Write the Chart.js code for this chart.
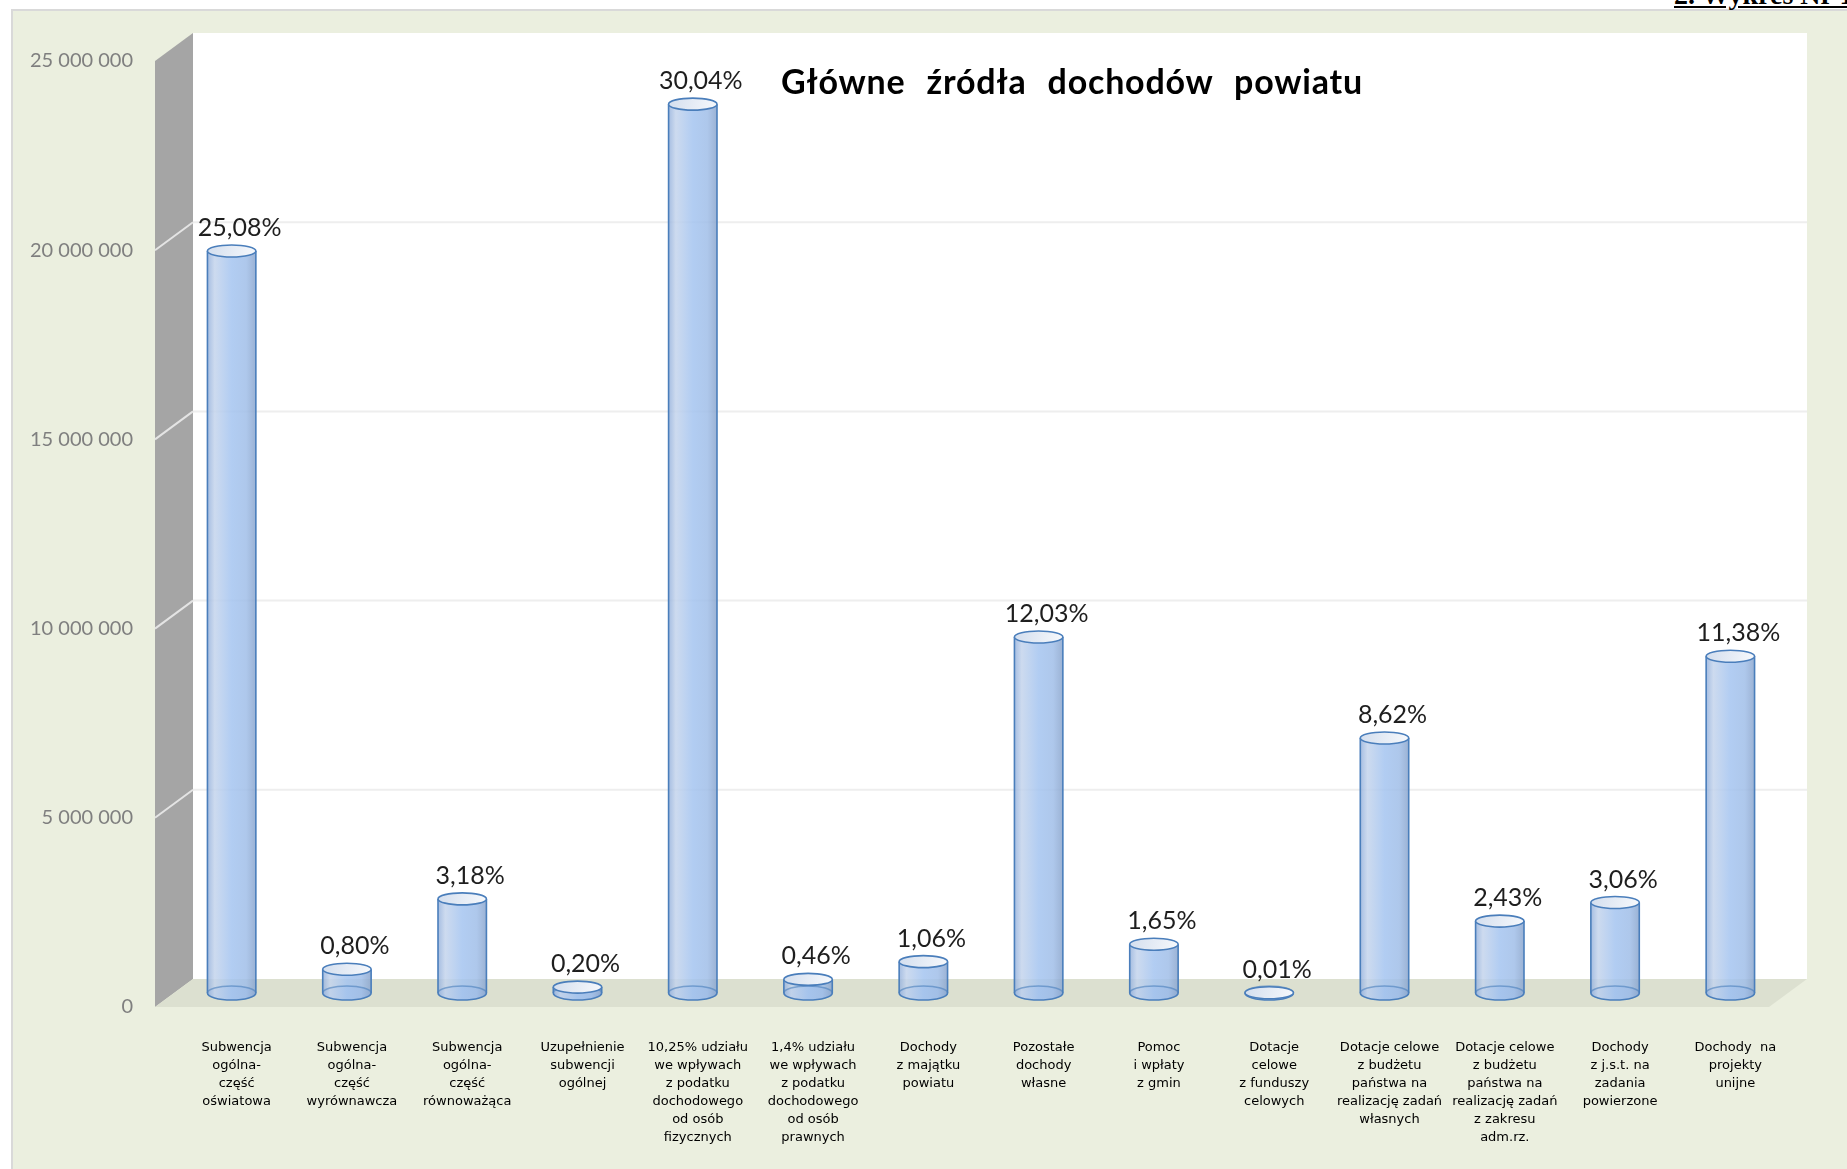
<!DOCTYPE html>
<html lang="pl">
<head>
<meta charset="utf-8">
<title>Główne źródła dochodów powiatu</title>
<script src="https://cdn.jsdelivr.net/npm/chart.js@4.4.1/dist/chart.umd.min.js"></script>
<style>
html, body { margin:0; padding:0; background:#fff; width:1847px; height:1169px; overflow:hidden; }
#panel { position:absolute; left:11px; top:9px; width:1840px; height:1165px; background:#ebefdf; border-left:2px solid #d9d9d9; border-top:2px solid #d9d9d9; }
#chart { position:absolute; left:0; top:0; }
#title { position:absolute; left:1072px; top:64px; transform:translateX(-50%); white-space:nowrap;
  font:bold 34px Lato, sans-serif; line-height:34px; letter-spacing:0.8px; word-spacing:12px; color:#000; }
#hdr { position:absolute; left:1674px; top:-19px; white-space:nowrap; font:bold 28px "Liberation Serif", serif;
  line-height:28px; text-decoration:underline; color:#000; }
</style>
</head>
<body>
<div id="panel"></div>
<div id="hdr">2. Wykres Nr 1</div>
<canvas id="chart" width="1847" height="1169"></canvas>
<div id="title">Główne źródła dochodów powiatu</div>
<script>
const categories = [
  ["Subwencja", "ogólna-", "część", "oświatowa"],
  ["Subwencja", "ogólna-", "część", "wyrównawcza"],
  ["Subwencja", "ogólna-", "część", "równoważąca"],
  ["Uzupełnienie", "subwencji", "ogólnej"],
  ["10,25% udziału", "we wpływach", "z podatku", "dochodowego", "od osób", "fizycznych"],
  ["1,4% udziału", "we wpływach", "z podatku", "dochodowego", "od osób", "prawnych"],
  ["Dochody", "z majątku", "powiatu"],
  ["Pozostałe", "dochody", "własne"],
  ["Pomoc", "i wpłaty", "z gmin"],
  ["Dotacje", "celowe", "z funduszy", "celowych"],
  ["Dotacje celowe", "z budżetu", "państwa na", "realizację zadań", "własnych"],
  ["Dotacje celowe", "z budżetu", "państwa na", "realizację zadań", "z zakresu", "adm.rz."],
  ["Dochody", "z j.s.t. na", "zadania", "powierzone"],
  ["Dochody  na", "projekty", "unijne"]
];

// kwoty w zł
const values = [19610000, 626000, 2487000, 156000, 23490000, 360000, 829000,
                9410000, 1290000, 8000, 6740000, 1900000, 2390000, 8900000];

const shares = ["25,08%", "0,80%", "3,18%", "0,20%", "30,04%", "0,46%", "1,06%",
                "12,03%", "1,65%", "0,01%", "8,62%", "2,43%", "3,06%", "11,38%"];

const yMax = 25000000;
const yStep = 5000000;

// perspective offset between the middle plane and the front/back planes
const DX = 19, DY = 14;

function fmt(v) {
  return String(v).replace(/\B(?=(\d{3})+(?!\d))/g, " ");
}

function poly(ctx, pts, color) {
  ctx.beginPath();
  ctx.moveTo(pts[0][0], pts[0][1]);
  for (let i = 1; i < pts.length; i++) ctx.lineTo(pts[i][0], pts[i][1]);
  ctx.closePath();
  ctx.fillStyle = color;
  ctx.fill();
}

const scene3d = {
  id: "scene3d",
  beforeDraw(chart) {
    const ctx = chart.ctx;
    const a = chart.chartArea;
    const y = chart.scales.y;
    const top = y.getPixelForValue(yMax);
    const base = y.getPixelForValue(0);
    ctx.save();
    // back wall
    ctx.fillStyle = "#ffffff";
    ctx.fillRect(a.left + DX, top - DY, a.right - a.left, base - top);
    // left wall
    poly(ctx, [[a.left - DX, top + DY], [a.left + DX, top - DY], [a.left + DX, base - DY], [a.left - DX, base + DY]], "#a5a5a5");
    // floor
    poly(ctx, [[a.left - DX, base + DY], [a.left + DX, base - DY], [a.right + DX, base - DY], [a.right - DX, base + DY]], "#dce0d0");
    // grid lines
    ctx.lineWidth = 2;
    y.ticks.forEach(t => {
      if (t.value <= 0 || t.value >= yMax) return;
      const p = y.getPixelForValue(t.value);
      ctx.strokeStyle = "#eeeeee";
      ctx.beginPath();
      ctx.moveTo(a.left + DX, p - DY);
      ctx.lineTo(a.right + DX, p - DY);
      ctx.stroke();
      ctx.strokeStyle = "#e4e4e4";
      ctx.beginPath();
      ctx.moveTo(a.left - DX, p + DY);
      ctx.lineTo(a.left + DX, p - DY);
      ctx.stroke();
    });
    ctx.restore();
  },
  afterDatasetsDraw(chart) {
    const ctx = chart.ctx;
    const meta = chart.getDatasetMeta(0);
    meta.data.forEach((bar, i) => {
      const p = bar.getProps(["x", "y", "base", "width"], true);
      drawCylinder(ctx, p.x, p.y, p.base, p.width / 2);
      ctx.save();
      ctx.font = "25px Lato, sans-serif";
      ctx.fillStyle = "#1e1e1e";
      ctx.textAlign = "center";
      ctx.textBaseline = "alphabetic";
      ctx.fillText(shares[i], p.x + 8, p.y - 15);
      ctx.restore();
    });
  }
};

function drawCylinder(ctx, x, yt, base, rx) {
  const ryTop = 6, ryBot = 7;
  const edge = "#4a7ebb";
  ctx.save();
  // bottom ellipse (seen through the body)
  ctx.beginPath();
  ctx.ellipse(x, base, rx, ryBot, 0, 0, Math.PI * 2);
  ctx.fillStyle = "rgba(140,175,225,0.55)";
  ctx.fill();

  // body
  const g = ctx.createLinearGradient(x - rx, 0, x + rx, 0);
  g.addColorStop(0, "rgba(150,178,220,0.85)");
  g.addColorStop(0.15, "rgba(196,212,236,0.85)");
  g.addColorStop(0.5, "rgba(164,196,240,0.85)");
  g.addColorStop(0.8, "rgba(160,190,232,0.85)");
  g.addColorStop(1, "rgba(138,165,205,0.85)");
  ctx.beginPath();
  ctx.moveTo(x - rx, yt);
  ctx.lineTo(x - rx, base);
  ctx.ellipse(x, base, rx, ryBot, 0, Math.PI, 0, true);
  ctx.lineTo(x + rx, yt);
  ctx.closePath();
  ctx.fillStyle = g;
  ctx.fill();

  ctx.strokeStyle = edge;
  ctx.lineWidth = 1.6;
  // back arc of bottom (faint)
  ctx.globalAlpha = 0.6;
  ctx.beginPath();
  ctx.ellipse(x, base, rx, ryBot, 0, Math.PI, 0, false);
  ctx.stroke();
  ctx.globalAlpha = 1;
  // front arc + sides
  ctx.beginPath();
  ctx.moveTo(x - rx, yt);
  ctx.lineTo(x - rx, base);
  ctx.ellipse(x, base, rx, ryBot, 0, Math.PI, 0, true);
  ctx.lineTo(x + rx, yt);
  ctx.stroke();

  // top cap
  const gc = ctx.createLinearGradient(x - rx, yt - ryTop, x + rx, yt + ryTop);
  gc.addColorStop(0, "#d3deee");
  gc.addColorStop(1, "#f7f9fc");
  ctx.beginPath();
  ctx.ellipse(x, yt, rx, ryTop, 0, 0, Math.PI * 2);
  ctx.fillStyle = gc;
  ctx.fill();
  ctx.stroke();
  ctx.restore();
}

new Chart(document.getElementById("chart"), {
  type: "bar",
  data: {
    labels: categories,
    datasets: [{
      data: values,
      backgroundColor: "rgba(0,0,0,0)",
      borderWidth: 0,
      barPercentage: 0.42,
      categoryPercentage: 1
    }]
  },
  options: {
    responsive: false,
    devicePixelRatio: 1,
    animation: false,
    layout: { padding: { top: 47, right: 59, left: 0, bottom: 0 } },
    plugins: { legend: { display: false }, title: { display: false }, tooltip: { enabled: false } },
    scales: {
      x: {
        grid: { display: false, drawTicks: false },
        border: { display: false },
        ticks: {
          color: "#000",
          font: { family: "DejaVu Sans", size: 13, lineHeight: "18px" },
          padding: 46,
          labelOffset: 5,
          maxRotation: 0,
          autoSkip: false
        },
        afterFit(s) { s.height = 176; }
      },
      y: {
        min: 0,
        max: yMax,
        grid: { display: false, drawTicks: false },
        border: { display: false },
        ticks: {
          stepSize: yStep,
          color: "#7f7f7f",
          font: { family: "Lato", size: 20 },
          padding: 41,
          labelOffset: DY,
          callback: v => fmt(v)
        },
        afterFit(s) {
          s.width = 174;
          s.paddingTop = 0;
          s.paddingBottom = 0;
        }
      }
    }
  },
  plugins: [scene3d]
});
</script>
</body>
</html>
